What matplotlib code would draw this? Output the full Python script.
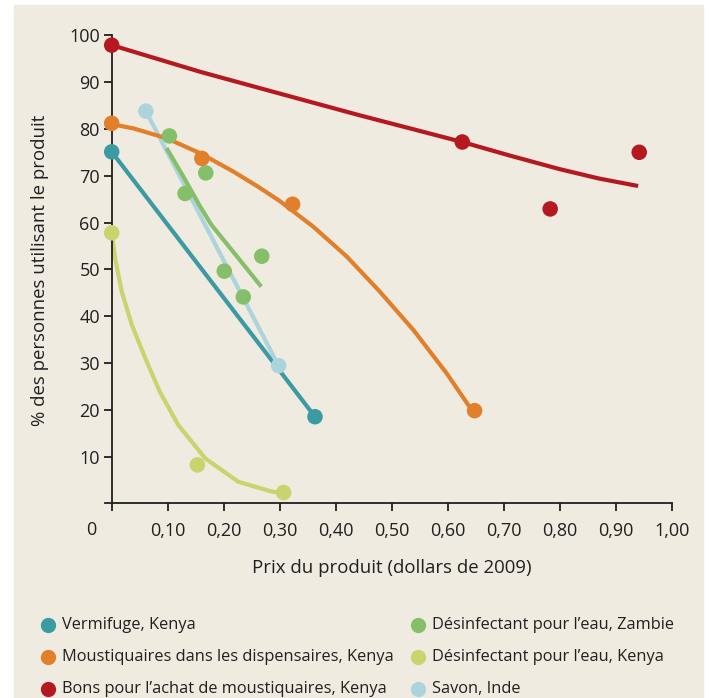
import matplotlib.pyplot as plt
from matplotlib.patches import Rectangle
from matplotlib.lines import Line2D

plt.rcParams['font.family'] = ['Open Sans', 'DejaVu Sans']

# series names for the legend
labels = ["Vermifuge, Kenya",
          "Moustiquaires dans les dispensaires, Kenya",
          "Bons pour l’achat de moustiquaires, Kenya",
          "Désinfectant pour l’eau, Zambie",
          "Désinfectant pour l’eau, Kenya",
          "Savon, Inde"]
colors = ["#3c9aa3", "#e27f2a", "#b5191f", "#86bf69", "#c9d46f", "#acd4dc"]

# observed points (price, % using)
verm_x = [0.0, 0.363]
verm_y = [75.1, 18.5]
moust_x = [0.0, 0.161, 0.323, 0.648]
moust_y = [81.2, 73.7, 63.9, 19.8]
bons_x = [0.0, 0.626, 0.783, 0.942]
bons_y = [97.9, 77.2, 62.9, 75.0]
zamb_x = [0.103, 0.131, 0.168, 0.201, 0.235, 0.268]
zamb_y = [78.5, 66.2, 70.6, 49.6, 44.1, 52.8]
kenya_x = [0.0, 0.153, 0.307]
kenya_y = [57.8, 8.2, 2.3]
savon_x = [0.061, 0.298]
savon_y = [83.8, 29.4]

# fitted curves
verm_cx = [0.0, 0.363]
verm_cy = [75.1, 18.5]
moust_cx = [0.0, 0.039, 0.098, 0.158, 0.217, 0.262, 0.300, 0.360, 0.420, 0.479,
            0.539, 0.598, 0.643]
moust_cy = [81.0, 80.1, 78.0, 74.8, 70.9, 67.6, 64.6, 59.1, 52.7, 45.2,
            37.0, 27.8, 19.9]
bons_cx = [0.0, 0.158, 0.277, 0.443, 0.533, 0.626, 0.711, 0.8, 0.87, 0.94]
bons_cy = [97.9, 92.2, 88.3, 82.9, 80.1, 77.2, 74.3, 71.4, 69.4, 67.8]
zamb_cx = [0.098, 0.128, 0.158, 0.178, 0.226, 0.267]
zamb_cy = [75.9, 69.8, 63.4, 59.5, 52.4, 46.3]
kenya_cx = [0.0, 0.006, 0.018, 0.036, 0.060, 0.086, 0.119, 0.167, 0.226, 0.286, 0.30]
kenya_cy = [57.9, 52.4, 45.2, 38.1, 31.0, 23.8, 16.7, 9.6, 4.6, 2.5, 2.3]
savon_cx = [0.061, 0.298]
savon_cy = [83.8, 29.4]

xticks = [0.1, 0.2, 0.3, 0.4, 0.5, 0.6, 0.7, 0.8, 0.9, 1.0]
xticklabels = ["0,10", "0,20", "0,30", "0,40", "0,50", "0,60", "0,70", "0,80", "0,90", "1,00"]
yticks = [10, 20, 30, 40, 50, 60, 70, 80, 90, 100]

W, H = 709, 698
ink = "#231f20"
fig = plt.figure(figsize=(W / 100, H / 100), dpi=100)
fig.patches.append(Rectangle((14 / W, 0), (703 - 14) / W, (H - 5) / H,
                             transform=fig.transFigure, color="#efebe1", zorder=-10))

left_px, right_px, top_px, bot_px = 105.0, 671.7, 35.3, 503.3
ax = fig.add_axes([left_px / W, 1 - bot_px / H, (right_px - left_px) / W, (bot_px - top_px) / H])
ax.set_facecolor("none")
ax.set_xlim(-(111.7 - 105.0) / 560, 1.0)
ax.set_ylim(0, 100)

curves = [(verm_cx, verm_cy), (moust_cx, moust_cy), (bons_cx, bons_cy),
          (zamb_cx, zamb_cy), (kenya_cx, kenya_cy), (savon_cx, savon_cy)]
points = [(verm_x, verm_y), (moust_x, moust_y), (bons_x, bons_y),
          (zamb_x, zamb_y), (kenya_x, kenya_y), (savon_x, savon_y)]

# draw order: later series on top
order = [4, 0, 5, 3, 1, 2]
for i in order:
    ax.plot(curves[i][0], curves[i][1], color=colors[i], lw=3.0,
            solid_capstyle="butt", solid_joinstyle="round", clip_on=False, zorder=2)
    ax.scatter(points[i][0], points[i][1], s=125, color=colors[i],
               edgecolors="none", clip_on=False, zorder=3)

for s in ["top", "right"]:
    ax.spines[s].set_visible(False)
ax.spines["left"].set_position(("data", 0))
ax.spines["left"].set_bounds(0, 100)
for s in ["left", "bottom"]:
    ax.spines[s].set_color(ink)
    ax.spines[s].set_linewidth(1.3)

ax.set_xticks([0] + xticks)
ax.set_xticklabels([""] + xticklabels)
ax.set_yticks(yticks)
ax.tick_params(axis="both", direction="out", length=5.5, width=1.3, color=ink,
               labelsize=13, labelcolor=ink)
ax.tick_params(axis="x", pad=8)
ax.tick_params(axis="y", pad=3)
ax.text(-0.0357, -5.6, "0", ha="center", va="center", fontsize=13, color=ink,
        transform=ax.transData, clip_on=False)

fig.text(392 / W, 1 - 568 / H, "Prix du produit (dollars de 2009)", ha="center",
         va="center", fontsize=13.4, color=ink)
fig.text(40 / W, 1 - 270 / H, "% des personnes utilisant le produit", ha="center",
         va="center", rotation=90, fontsize=13.4, color=ink)

# legend, two columns of three rows
marker_x = [48, 48, 48, 418, 418, 418]
row_y = [625, 657, 689, 625, 657, 689]
for i in range(len(labels)):
    fig.add_artist(Line2D([marker_x[i] / W], [1 - row_y[i] / H], ls="none", marker="o",
                          markersize=11, color=colors[i], markeredgewidth=0,
                          transform=fig.transFigure))
    fig.text((marker_x[i] + 14) / W, 1 - row_y[i] / H, labels[i], ha="left",
             va="center", fontsize=11.75, color=ink)

fig.savefig("out.png", dpi=100, facecolor="white")
